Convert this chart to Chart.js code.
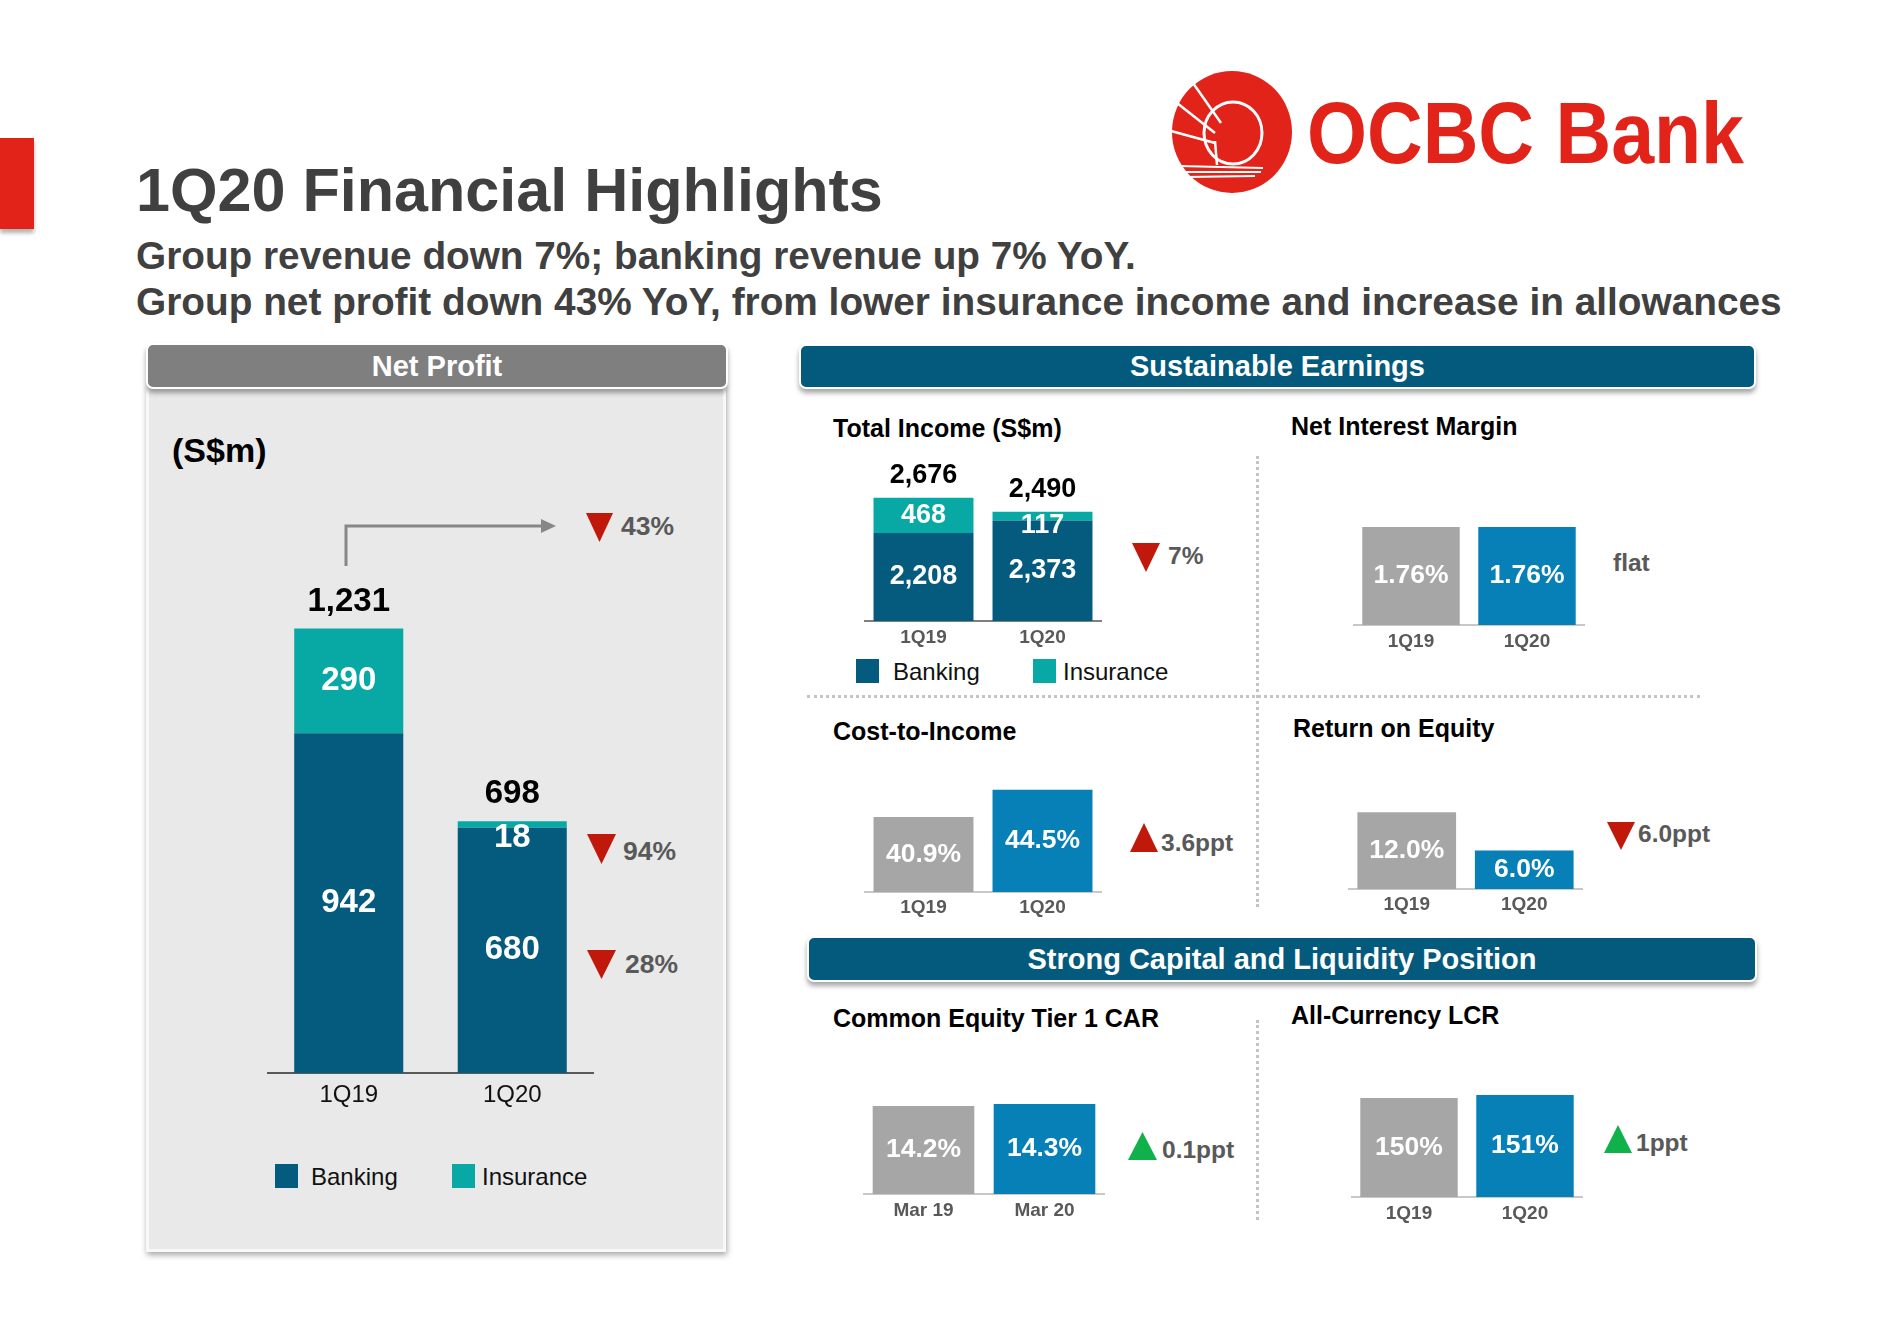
<!DOCTYPE html>
<html>
<head>
<meta charset="utf-8">
<title>1Q20 Financial Highlights</title>
<script src="https://cdn.jsdelivr.net/npm/chart.js@4.4.1/dist/chart.umd.min.js"></script>
<style>
  html, body { margin: 0; padding: 0; background: #fff; }
  body { width: 1893px; height: 1337px; position: relative; overflow: hidden; font-family: "Liberation Sans", Arial, sans-serif; }
  .abs { position: absolute; white-space: nowrap; line-height: 1; }
  .hdr { position: absolute; box-sizing: border-box; border: 2px solid #fff; border-radius: 7px; color: #fff; font-weight: bold; font-size: 29px; text-align: center; box-shadow: 0 4px 5px rgba(0,0,0,0.35); z-index: 2; }
  .panel { position: absolute; box-sizing: border-box; background: #e9e9e9; border: 3px solid #f8f8f8; box-shadow: 1px 3px 6px rgba(0,0,0,0.35); }
  .dotH { position: absolute; border-top: 3px dotted #c4c4c4; height: 0; }
  .dotV { position: absolute; border-left: 3px dotted #c4c4c4; width: 0; }
  canvas { position: absolute; }
  svg { position: absolute; overflow: visible; }
</style>
</head>
<body>

<div style="position:absolute;left:0;top:138px;width:34px;height:91px;background:#e2231a;box-shadow:0 4px 4px rgba(0,0,0,0.3)"></div>

<svg style="left:1171px;top:71px" width="122" height="122" viewBox="0 0 122 122">
  <ellipse cx="61" cy="61" rx="60" ry="61" fill="#e2231a"/>
  <ellipse cx="62" cy="62" rx="29" ry="31" fill="none" stroke="#fff" stroke-width="3"/>
  <path d="M0 60 L44 72 M6 32 L44 62 M22 12 L50 52 M44 70 L46 94" stroke="#fff" stroke-width="2.5" fill="none"/>
  <path d="M8 95 L92 97 M10 101 L90 101 M14 106 L84 105" stroke="#fff" stroke-width="2" fill="none"/>
</svg>

<div class="panel" style="left:146px;top:386px;width:580px;height:866px"></div>
<div class="hdr" style="left:146px;top:343px;width:582px;height:46px;line-height:42px;background:#7f7f7f">Net Profit</div>
<div class="hdr" style="left:799px;top:344px;width:957px;height:45px;line-height:41px;background:#045a7c">Sustainable Earnings</div>
<div class="hdr" style="left:807px;top:936px;width:950px;height:46px;line-height:42px;background:#045a7c">Strong Capital and Liquidity Position</div>

<div class="dotH" style="left:807px;top:695px;width:893px"></div>
<div class="dotV" style="left:1256px;top:456px;height:451px"></div>
<div class="dotV" style="left:1256px;top:1020px;height:200px"></div>

<svg style="left:0;top:0" width="1893" height="1337">
  <polyline points="346,566 346,526 543,526" fill="none" stroke="#878787" stroke-width="3"/>
  <polygon points="541,519 556,526 541,533" fill="#878787"/>
</svg>

<script>
// ---- data ----
const quarters = ['1Q19', '1Q20'];
const capitalDates = ['Mar 19', 'Mar 20'];
const netProfitBanking = [942, 680];
const netProfitInsurance = [290, 18];
const netProfitTotal = [1231, 698];
const incomeBanking = [2208, 2373];
const incomeInsurance = [468, 117];
const incomeTotal = [2676, 2490];
const nimPct = [1.76, 1.76];
const costIncomePct = [40.9, 44.5];
const roePct = [12.0, 6.0];
const cet1Pct = [14.2, 14.3];
const lcrPct = [150, 151];

const FAMILY = '"Liberation Sans", Arial, sans-serif';
const BANKING = '#045b7e';
const INSURANCE = '#08a9a4';
const GREY_BAR = '#a6a6a6';
const BLUE_BAR = '#0780b8';
const RED = '#c0180a';
const GREEN = '#10b04b';
const DARK = '#404040';
const MID = '#595959';

const measureCtx = document.createElement('canvas').getContext('2d');
function textWidth(str, size, weight) {
  measureCtx.font = `${weight} ${size}px ${FAMILY}`;
  return measureCtx.measureText(str).width;
}

function addText(str, left, cy, size, opts = {}) {
  const d = document.createElement('div');
  d.className = 'abs';
  d.textContent = str;
  d.style.left = left + 'px';
  d.style.top = (cy - size / 2) + 'px';
  d.style.fontSize = size + 'px';
  d.style.fontWeight = opts.weight || 'bold';
  d.style.color = opts.color || '#000';
  if (opts.scaleX) {
    d.style.transform = `scaleX(${opts.scaleX})`;
    d.style.transformOrigin = 'left center';
  }
  document.body.appendChild(d);
  return d;
}

// text placed by baseline and fitted to the width it takes in the slide
function addFitted(str, left, baseline, width) {
  const size = 100 * width / textWidth(str, 100, 'bold');
  addText(str, left, baseline - 0.358 * size, size, { color: DARK });
}

function addTriangle(x1, y1, x2, y2, up, color) {
  const w = x2 - x1, h = y2 - y1;
  const pts = up ? `0,${h} ${w / 2},0 ${w},${h}` : `0,0 ${w},0 ${w / 2},${h}`;
  const wrap = document.createElement('div');
  wrap.innerHTML = `<svg style="left:${x1}px;top:${y1}px" width="${w}" height="${h}"><polygon points="${pts}" fill="${color}"/></svg>`;
  document.body.appendChild(wrap.firstChild);
}

function addLegendSwatch(x, y, color) {
  const d = document.createElement('div');
  d.style.cssText = `position:absolute;left:${x}px;top:${y}px;width:23px;height:24px;background:${color}`;
  document.body.appendChild(d);
}

// ---- headings ----
addFitted('1Q20 Financial Highlights', 136, 212, 747);
addFitted('Group revenue down 7%; banking revenue up 7% YoY.', 136, 270, 1001);
addFitted('Group net profit down 43% YoY, from lower insurance income and increase in allowances', 136, 316, 1647);

const logoText = 'OCBC Bank';
addText(logoText, 1307, 132, 87, { color: '#e2231a', scaleX: 437 / textWidth(logoText, 87, 'bold') });

addText('(S$m)', 172, 450, 34);
addText('Total Income (S$m)', 833, 428, 25);
addText('Net Interest Margin', 1291, 426, 25);
addText('Cost-to-Income', 833, 731, 25);
addText('Return on Equity', 1293, 728, 25);
addText('Common Equity Tier 1 CAR', 833, 1018, 25);
addText('All-Currency LCR', 1291, 1015, 25);

// ---- change markers ----
addTriangle(586, 513, 613, 542, false, RED);
addText('43%', 621, 526, 26.5, { color: MID });
addTriangle(587, 834, 616, 864, false, RED);
addText('94%', 623, 851, 26.5, { color: MID });
addTriangle(587, 950, 616, 979, false, RED);
addText('28%', 625, 964, 26.5, { color: MID });
addTriangle(1132, 543, 1160, 572, false, RED);
addText('7%', 1168, 556, 24.5, { color: MID });
addText('flat', 1613, 563, 24.5, { color: MID });
addTriangle(1130, 823, 1158, 852, true, RED);
addText('3.6ppt', 1161, 843, 24.5, { color: MID });
addTriangle(1607, 822, 1635, 850, false, RED);
addText('6.0ppt', 1638, 834, 24.5, { color: MID });
addTriangle(1128, 1132, 1157, 1160, true, GREEN);
addText('0.1ppt', 1162, 1150, 24.5, { color: MID });
addTriangle(1604, 1125, 1632, 1153, true, GREEN);
addText('1ppt', 1636, 1143, 24.5, { color: MID });

// ---- legends ----
addLegendSwatch(275, 1164, BANKING);
addText('Banking', 311, 1177, 24, { weight: 'normal', color: '#111' });
addLegendSwatch(452, 1164, INSURANCE);
addText('Insurance', 482, 1177, 24, { weight: 'normal', color: '#111' });
addLegendSwatch(856, 659, BANKING);
addText('Banking', 893, 672, 24, { weight: 'normal', color: '#111' });
addLegendSwatch(1033, 659, INSURANCE);
addText('Insurance', 1063, 672, 24, { weight: 'normal', color: '#111' });

// ---- value labels drawn on the bars ----
const valueLabels = {
  id: 'valueLabels',
  afterDatasetsDraw(chart, args, opts) {
    const ctx = chart.ctx;
    const bottom = chart.chartArea.bottom;
    ctx.save();
    ctx.textAlign = 'center';
    ctx.textBaseline = 'middle';
    ctx.font = opts.font;
    chart.data.datasets.forEach((ds, di) => {
      chart.getDatasetMeta(di).data.forEach((bar, i) => {
        const top = bar.y;
        const base = Math.min(bar.base, bottom);
        const y = base - top < 24 ? top + opts.smallOffset : (top + base) / 2;
        ctx.fillStyle = '#fff';
        ctx.fillText(opts.format(ds.data[i]), bar.x, y);
      });
    });
    if (opts.totals) {
      const last = chart.getDatasetMeta(chart.data.datasets.length - 1).data;
      ctx.fillStyle = '#000';
      opts.totals.forEach((t, i) => {
        ctx.fillText(opts.format(t), last[i].x, last[i].y - opts.totalOffset);
      });
    }
    ctx.restore();
  }
};

const thousands = v => v.toLocaleString('en-US');
const pct = d => v => v.toFixed(d) + '%';

function makeBarChart(c) {
  const xh = 40;
  const canvas = document.createElement('canvas');
  canvas.width = c.right - c.left;
  canvas.height = c.base - c.top + xh;
  canvas.style.left = c.left + 'px';
  canvas.style.top = c.top + 'px';
  document.body.appendChild(canvas);
  const stacked = c.datasets.length > 1;
  new Chart(canvas, {
    type: 'bar',
    data: {
      labels: c.labels,
      datasets: c.datasets.map(d => ({
        data: d.data,
        backgroundColor: d.color,
        barPercentage: 1,
        categoryPercentage: c.catPct,
        clip: 0
      }))
    },
    options: {
      responsive: false,
      animation: false,
      layout: { padding: 0 },
      plugins: {
        legend: { display: false },
        tooltip: { enabled: false },
        valueLabels: {
          font: `bold ${c.labelSize}px ${FAMILY}`,
          format: c.format,
          totals: c.totals,
          totalOffset: c.totalOffset || 0,
          smallOffset: c.smallOffset || 16
        }
      },
      scales: {
        x: {
          stacked: stacked,
          grid: { display: false, drawTicks: false },
          border: { display: true, color: c.axisColor, width: 2 },
          ticks: {
            padding: c.tickOffset - 0.6 * c.tickSize,
            color: c.tickColor,
            font: { family: FAMILY, size: c.tickSize, weight: c.tickWeight }
          },
          afterFit(scale) { scale.height = xh; }
        },
        y: { display: false, stacked: stacked, min: c.min, max: c.max }
      }
    },
    plugins: [valueLabels]
  });
}

// Net profit
makeBarChart({
  left: 267, right: 594, top: 560, base: 1073, min: 0, max: 1422,
  labels: quarters,
  datasets: [{ data: netProfitBanking, color: BANKING }, { data: netProfitInsurance, color: INSURANCE }],
  totals: netProfitTotal, totalOffset: 27, smallOffset: 17,
  catPct: 0.667, labelSize: 33, format: thousands,
  axisColor: '#595959', tickSize: 24, tickWeight: 'normal', tickColor: '#111', tickOffset: 22
});

// Total income
makeBarChart({
  left: 864, right: 1102, top: 455, base: 621, min: 1040, max: 3244,
  labels: quarters,
  datasets: [{ data: incomeBanking, color: BANKING }, { data: incomeInsurance, color: INSURANCE }],
  totals: incomeTotal, totalOffset: 22, smallOffset: 14,
  catPct: 0.84, labelSize: 27, format: thousands,
  axisColor: '#7f7f7f', tickSize: 19, tickWeight: 'bold', tickColor: MID, tickOffset: 17
});

const pairColors = [GREY_BAR, BLUE_BAR];
const small = [
  { left: 1353, right: 1585, top: 500, base: 625, min: 0, max: 2.244, labels: quarters, data: nimPct, dec: 2, off: 17 },
  { left: 864, right: 1102, top: 760, base: 892, min: 31, max: 48.41, labels: quarters, data: costIncomePct, dec: 1, off: 16 },
  { left: 1348, right: 1583, top: 760, base: 889, min: 0, max: 20.16, labels: quarters, data: roePct, dec: 1, off: 16 },
  { left: 863, right: 1105, top: 1060, base: 1194, min: 10, max: 16.4, labels: capitalDates, data: cet1Pct, dec: 1, off: 17 },
  { left: 1351, right: 1583, top: 1060, base: 1197, min: 115, max: 163.4, labels: quarters, data: lcrPct, dec: 0, off: 17 }
];
small.forEach(s => makeBarChart({
  left: s.left, right: s.right, top: s.top, base: s.base, min: s.min, max: s.max,
  labels: s.labels,
  datasets: [{ data: s.data, color: pairColors }],
  catPct: 0.84, labelSize: 26.5, format: pct(s.dec),
  axisColor: '#c8c8c8', tickSize: 19, tickWeight: 'bold', tickColor: MID, tickOffset: s.off
}));
</script>
</body>
</html>
